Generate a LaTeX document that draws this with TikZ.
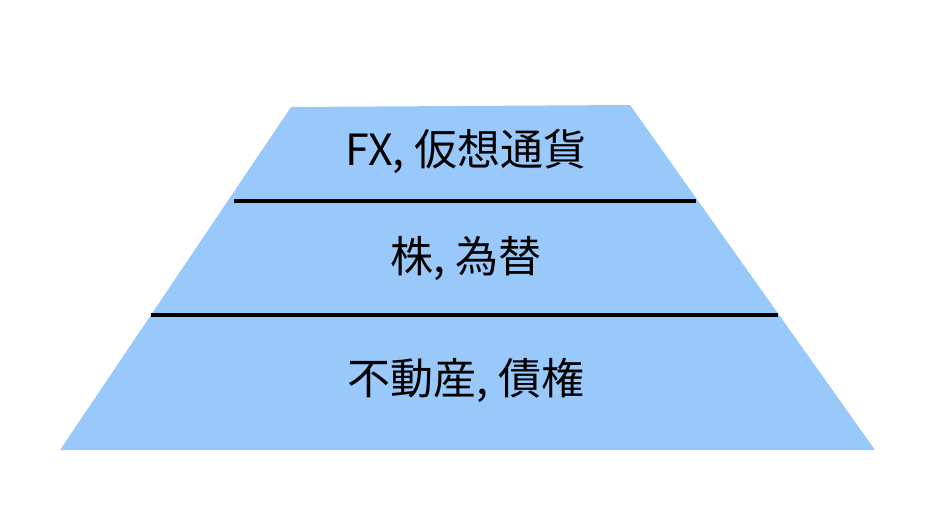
\documentclass[tikz,border=0pt]{standalone}
\usepackage{fontspec}
\setmainfont{Noto Sans CJK JP}
\usepackage{tikz}
\usepackage{xcolor}
\usetikzlibrary{positioning}

\definecolor{tierblue}{HTML}{99C9FA}

\begin{document}
\begin{tikzpicture}[x=1pt,y=-1pt,
  tierlabel/.style={font=\fontsize{43}{50}\selectfont, inner sep=0pt},
  divider/.style={line width=4.5pt, black}]
  \useasboundingbox (0,0) rectangle (928,512);

  % Pyramid body
  \coordinate (tl) at (291,107);
  \coordinate (tr) at (630,105);
  \coordinate (br) at (875,450);
  \coordinate (bl) at (60,450);
  \fill[tierblue] (tl) -- (tr) -- (br) -- (bl) -- cycle;

  % Dividers between tiers
  \draw[divider] (234,201) -- (696,201);
  \draw[divider] (151,315) -- (778,315);

  % Tier labels
  \node[tierlabel] (top) at (466,151) {FX, 仮想通貨};
  \node[tierlabel] (mid) at (466,258) {株, 為替};
  \node[tierlabel] (low) at (466,380) {不動産, 債権};
\end{tikzpicture}
\end{document}
